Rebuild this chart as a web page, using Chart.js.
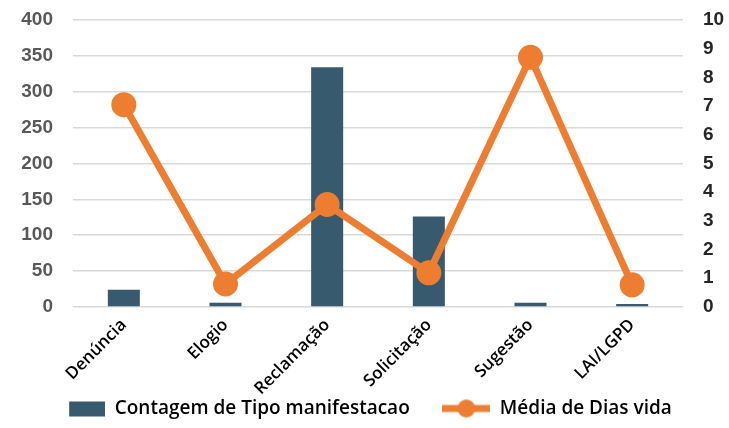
<!DOCTYPE html>
<html>
<head>
<meta charset="utf-8">
<script src="https://cdn.jsdelivr.net/npm/chart.js@4.4.1/dist/chart.umd.min.js"></script>
<style>
  html, body { margin: 0; padding: 0; background: #fff; }
  #wrap { width: 729px; height: 428px; }
</style>
</head>
<body>
<div id="wrap"><canvas id="chart"></canvas></div>
<script>
// Data
const categories = ['Denúncia', 'Elogio', 'Reclamação', 'Solicitação', 'Sugestão', 'LAI/LGPD'];
const contagem = [24, 6, 334, 126, 6, 4];
const mediaDias = [7.05, 0.8, 3.57, 1.19, 8.7, 0.77];
const leftTicks = [0, 50, 100, 150, 200, 250, 300, 350, 400];
const rightTicks = [0, 1, 2, 3, 4, 5, 6, 7, 8, 9, 10];

const barColor = '#375a6f';
const lineColor = '#ed7d31';

// legend swatches
function swatch(kind) {
    const c = document.createElement('canvas');
    c.width = 48; c.height = 20;
    const g = c.getContext('2d');
    if (kind === 'bar') {
        g.fillStyle = barColor;
        g.fillRect(12, 3, 36, 15);
    } else {
        g.strokeStyle = lineColor;
        g.lineWidth = 7;
        g.beginPath(); g.moveTo(0, 10); g.lineTo(48, 10); g.stroke();
        g.fillStyle = lineColor;
        g.beginPath(); g.arc(24, 10, 9, 0, Math.PI * 2); g.fill();
    }
    return c;
}

// fixed axis boxes so the plot sits where the original does
const fitAxis = (w) => (scale) => {
    scale.width = w;
    scale.paddingTop = 20;
    scale.paddingBottom = 0;
};

const ctx = document.getElementById('chart').getContext('2d');
new Chart(ctx, {
    data: {
        labels: categories,
        datasets: [{
            type: 'line',
            label: 'Média de Dias vida',
            data: mediaDias,
            yAxisID: 'y2',
            borderColor: lineColor,
            backgroundColor: lineColor,
            borderWidth: 7,
            pointRadius: 9,
            pointHoverRadius: 9,
            tension: 0,
            order: 0
        }, {
            type: 'bar',
            label: 'Contagem de Tipo manifestacao',
            data: contagem,
            yAxisID: 'y',
            backgroundColor: barColor,
            categoryPercentage: 1,
            barPercentage: 0.315,
            order: 1
        }]
    },
    options: {
        responsive: true,
        maintainAspectRatio: false,
        animation: false,
        layout: { autoPadding: false, padding: 0 },
        plugins: {
            tooltip: { enabled: false },
            legend: {
                position: 'bottom',
                reverse: true,
                labels: {
                    usePointStyle: true,
                    pointStyleWidth: 48,
                    color: '#000',
                    font: { family: 'Open Sans', size: 19, weight: '600' },
                    padding: 3,
                    generateLabels: (chart) => chart.data.datasets.map((ds, i) => ({
                        text: ds.type === 'bar' ? ds.label + '      ' : ds.label,
                        pointStyle: swatch(ds.type),
                        datasetIndex: i,
                        hidden: false,
                        lineWidth: 0
                    }))
                }
            }
        },
        scales: {
            x: {
                grid: { display: false },
                border: { display: false },
                ticks: {
                    minRotation: 45,
                    maxRotation: 45,
                    color: '#000',
                    font: { family: 'Open Sans', size: 17, weight: '600' },
                    padding: 0
                },
                afterFit: (scale) => {
                    scale.height -= 3;
                    scale.paddingLeft = 0;
                    scale.paddingRight = 0;
                }
            },
            y: {
                position: 'left',
                min: 0,
                max: 400,
                afterBuildTicks: (axis) => { axis.ticks = leftTicks.map(v => ({ value: v })); },
                afterFit: fitAxis(73),
                grid: { color: '#d9d9d9', lineWidth: 1.5, drawTicks: false },
                border: { display: false },
                ticks: {
                    color: '#595959',
                    padding: 20,
                    font: { family: 'Liberation Sans', size: 19, weight: 'bold' }
                }
            },
            y2: {
                position: 'right',
                min: 0,
                max: 10,
                afterBuildTicks: (axis) => { axis.ticks = rightTicks.map(v => ({ value: v })); },
                afterFit: fitAxis(46),
                grid: { display: false, drawTicks: false },
                border: { display: false },
                ticks: {
                    color: '#262626',
                    padding: 20,
                    font: { family: 'Liberation Sans', size: 19, weight: 'bold' }
                }
            }
        }
    }
});
</script>
</body>
</html>
